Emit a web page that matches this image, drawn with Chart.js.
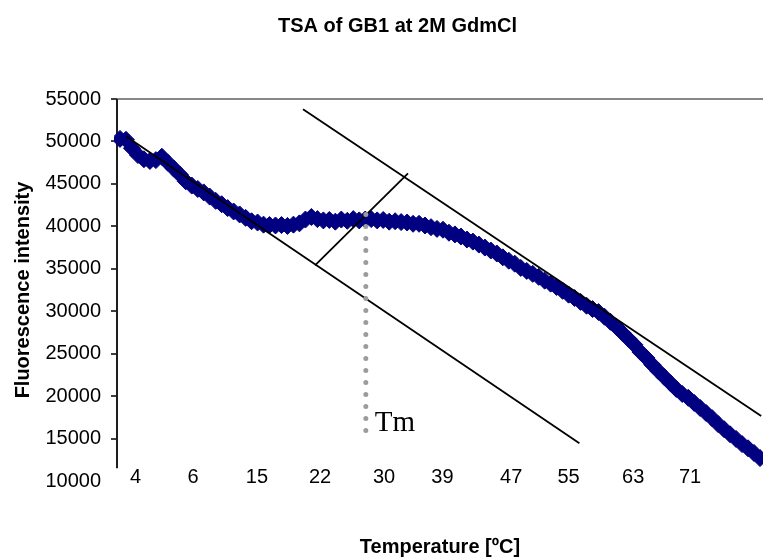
<!DOCTYPE html>
<html>
<head>
<meta charset="utf-8">
<title>TSA of GB1 at 2M GdmCl</title>
<script src="https://cdn.jsdelivr.net/npm/chart.js@4.4.1/dist/chart.umd.min.js"></script>
<style>
  html, body { margin: 0; padding: 0; background: #fff; }
  #wrap { width: 763px; height: 560px; position: relative; }
</style>
</head>
<body>
<div id="wrap"><canvas id="tsa-chart"></canvas></div>
<script>
const chartTitle = 'TSA of GB1 at 2M GdmCl';
const xTitle = 'Temperature [ºC]';
const yTitle = 'Fluorescence intensity';
const tmText = 'Tm';

// fluorescence readings, one per sample, in measurement order
const fluorescence = [
    50300, 50200, 49200, 48400, 47900, 47700, 47800, 48200, 47500, 46800,
    46100, 45300, 44800, 44400, 44000, 43500, 43000, 42600, 42150, 41750,
    41400, 41000, 40600, 40450, 40200, 40150, 40100, 40150, 40050, 40200,
    40350, 40800, 41100, 40850, 40700, 40750, 40550, 40800, 40650, 40850,
    40700, 40800, 40850, 40700, 40750, 40550, 40600, 40500, 40450, 40300,
    40300, 40100, 39900, 39700, 39600, 39250, 39050, 38800, 38450, 38200,
    37850, 37500, 37150, 36800, 36350, 35950, 35600, 35100, 34750, 34400,
    34050, 33600, 33250, 32850, 32400, 31950, 31550, 31100, 30650, 30250,
    29900, 29350, 28750, 28150, 27450, 26750, 26050, 25200, 24500, 23700,
    22950, 22250, 21550, 20850, 20250, 19800, 19200, 18600, 18000, 17400,
    16700, 16100, 15500, 14950, 14350, 13850, 13300, 12700
];

// samples that carry a temperature label on the axis
const tickSamples = [2.6, 12.2, 22.9, 33.45, 44.15, 53.9, 65.4, 75.0, 85.8, 95.3];
const tickLabels = ['4', '6', '15', '22', '30', '39', '47', '55', '63', '71'];

const yMin = 10000;
const yMax = 55000;
const yStep = 5000;
const axisFloor = 11500;

// construction lines, end points as [sample, intensity]
const lowerBaseline = [[1.0, 50600], [76.8, 14450]];
const upperBaseline = [[30.6, 53800], [107.2, 17650]];
const crossLine = [[32.6, 35400], [48.15, 46250]];
const tmLine = [[41.1, 41400], [41.1, 15900]];

const toPoints = pairs => pairs.map(([x, y]) => ({ x: x, y: y }));
const samplePoints = fluorescence.map((v, i) => ({ x: i, y: v }));

const sans = '"Liberation Sans", Arial, sans-serif';
const serif = '"Liberation Serif", "Times New Roman", serif';

const extras = {
    id: 'extras',
    beforeDatasetsDraw(chart) {
        // the value axis stops just short of the category labels
        const { ctx, chartArea, scales } = chart;
        ctx.save();
        ctx.strokeStyle = '#1e1e1e';
        ctx.lineWidth = 2;
        ctx.beginPath();
        ctx.moveTo(chartArea.left, chartArea.top);
        ctx.lineTo(chartArea.left, scales.y.getPixelForValue(axisFloor));
        ctx.stroke();
        ctx.restore();
    },
    afterDatasetsDraw(chart) {
        const { ctx, scales } = chart;
        ctx.save();
        ctx.fillStyle = '#000';
        ctx.font = '29px ' + serif;
        ctx.textAlign = 'left';
        ctx.textBaseline = 'alphabetic';
        ctx.fillText(tmText, scales.x.getPixelForValue(tmLine[1][0]) + 9, scales.y.getPixelForValue(tmLine[1][1]));
        ctx.restore();
    },
    afterDraw(chart) {
        const { ctx } = chart;
        ctx.save();
        ctx.fillStyle = '#000';
        ctx.font = 'bold 20px ' + sans;
        ctx.textAlign = 'center';
        ctx.textBaseline = 'alphabetic';
        ctx.fillText(chartTitle, chart.width / 2 + 16, 32);
        ctx.restore();
    }
};

const lineSet = (pairs, extra) => Object.assign({
    data: toPoints(pairs),
    showLine: true,
    borderColor: '#000',
    borderWidth: 1.8,
    pointRadius: 0,
    fill: false,
    order: 0
}, extra);

new Chart(document.getElementById('tsa-chart'), {
    type: 'scatter',
    data: {
        datasets: [
            lineSet(tmLine, {
                borderColor: '#9c9c9c',
                borderWidth: 5,
                borderDash: [0, 12],
                borderCapStyle: 'round'
            }),
            lineSet(lowerBaseline),
            lineSet(upperBaseline),
            lineSet(crossLine),
            {
                data: samplePoints,
                showLine: false,
                pointStyle: 'rectRot',
                pointRadius: 8.5,
                pointBorderWidth: 1,
                backgroundColor: '#000080',
                borderColor: '#000080',
                clip: { left: 3, top: 5, right: 10, bottom: 5 },
                order: 1
            }
        ]
    },
    options: {
        responsive: true,
        maintainAspectRatio: false,
        animation: false,
        layout: {
            autoPadding: false,
            padding: { top: 99, right: 0, bottom: 0, left: 0 }
        },
        plugins: {
            legend: { display: false },
            tooltip: { enabled: false },
            title: { display: false }
        },
        scales: {
            x: {
                type: 'linear',
                min: -0.5,
                max: 107.5,
                grid: { display: false, drawTicks: false },
                border: { display: false },
                afterBuildTicks: scale => {
                    scale.ticks = tickSamples.map(v => ({ value: v }));
                },
                afterFit: scale => {
                    scale.height = 79;
                    scale.paddingLeft = 0;
                    scale.paddingRight = 0;
                },
                ticks: {
                    autoSkip: false,
                    maxRotation: 0,
                    // labels sit level with the lowest value label
                    mirror: true,
                    padding: -8,
                    color: '#000',
                    font: { family: sans, size: 20 },
                    callback: (value, index) => tickLabels[index]
                },
                title: {
                    display: true,
                    text: xTitle,
                    color: '#000',
                    font: { family: sans, size: 20, weight: 'bold' },
                    padding: { top: 0, bottom: 1 }
                }
            },
            y: {
                min: yMin,
                max: yMax,
                border: { display: false },
                grid: {
                    color: ctx => (ctx.tick && ctx.tick.value === yMax) ? '#878787' : 'rgba(0,0,0,0)',
                    lineWidth: 2,
                    tickColor: ctx => (ctx.tick && ctx.tick.value === yMin) ? 'rgba(0,0,0,0)' : '#000',
                    tickWidth: 1.5,
                    tickLength: 6
                },
                afterFit: scale => { scale.width = 117; },
                ticks: {
                    stepSize: yStep,
                    padding: 10,
                    color: '#000',
                    font: { family: sans, size: 20 },
                    callback: value => String(value)
                },
                title: {
                    display: true,
                    text: yTitle,
                    color: '#000',
                    font: { family: sans, size: 20, weight: 'bold' },
                    padding: { top: 11, bottom: 0 }
                }
            }
        }
    },
    plugins: [extras]
});
</script>
</body>
</html>
